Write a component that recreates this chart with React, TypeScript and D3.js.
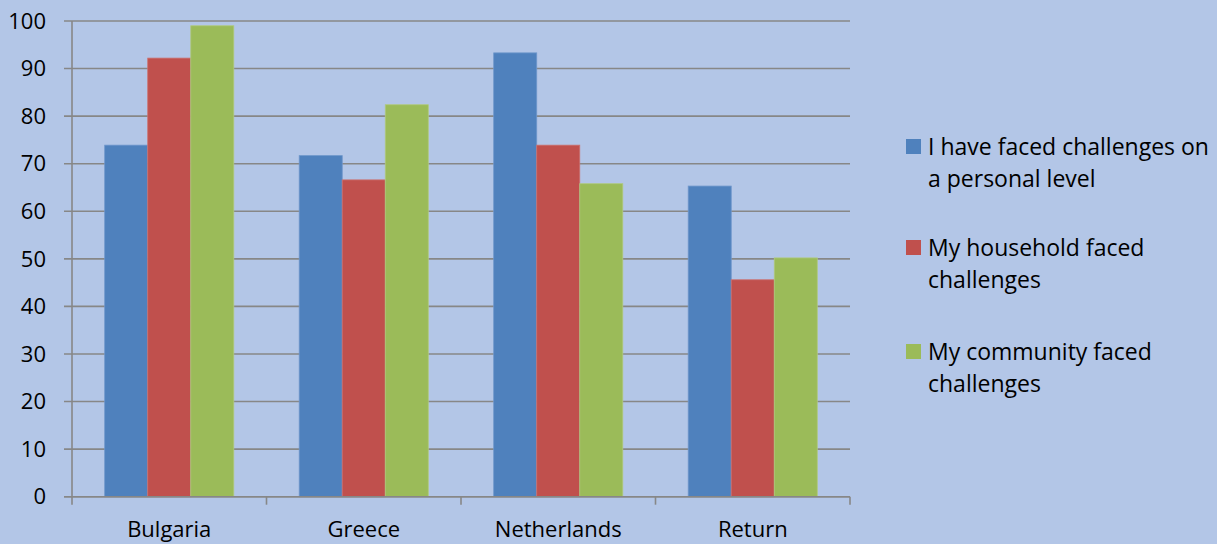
import React from "react";
import * as d3 from "d3";

const categories = ["Bulgaria", "Greece", "Netherlands", "Return"];
const seriesNames = [
  "I have faced challenges on a personal level",
  "My household faced challenges",
  "My community faced challenges",
];
const legendLines = [
  ["I have faced challenges on", "a personal level"],
  ["My household faced", "challenges"],
  ["My community faced", "challenges"],
];
const personal = [73.9, 71.7, 93.3, 65.3];
const household = [92.2, 66.6, 73.9, 45.6];
const community = [99.0, 82.4, 65.8, 50.2];
const yTicks = [0, 10, 20, 30, 40, 50, 60, 70, 80, 90, 100];
const colors = ["#4F81BD", "#C0504D", "#9BBB59"];
const strokes = ["#6E96CB", "#CC716F", "#B0C97F"];

const W = 1217;
const H = 544;
const FONT = "'Open Sans', sans-serif";

export default function App() {
  const values = [personal, household, community];
  const x0 = d3.scaleBand<string>().domain(categories).range([72, 850]).paddingInner(0).paddingOuter(0);
  const x1 = d3
    .scaleBand<string>()
    .domain(seriesNames)
    .range([0, x0.bandwidth()])
    .paddingInner(0)
    .paddingOuter(0.76);
  const y = d3.scaleLinear().domain([0, 100]).range([496.7, 21]);
  const grid = "#878787";
  const legendY = [147, 248, 352];

  return (
    <svg width={W} height={H} style={{ position: "absolute", left: 0, top: 0 }} fontFamily={FONT}>
      <rect x={0} y={0} width={W} height={H} fill="#B3C6E7" />
      {yTicks.map((t) => (
        <g key={t}>
          <line x1={64} x2={850} y1={y(t)} y2={y(t)} stroke={grid} strokeWidth={1.6} />
          <text x={46} y={y(t)} dy="0.35em" textAnchor="end" fontSize={22} fill="#000">
            {t}
          </text>
        </g>
      ))}
      {values.map((vals, si) =>
        categories.map((c, ci) => (
          <rect
            key={`${si}-${ci}`}
            x={(x0(c) ?? 0) + (x1(seriesNames[si]) ?? 0)}
            y={y(vals[ci])}
            width={x1.bandwidth()}
            height={y(0) - y(vals[ci])}
            fill={colors[si]}
            stroke={strokes[si]}
            strokeWidth={0.8}
          />
        ))
      )}
      <line x1={72} x2={72} y1={y(100)} y2={y(0)} stroke={grid} strokeWidth={1.6} />
      <line x1={64} x2={850} y1={y(0)} y2={y(0)} stroke={grid} strokeWidth={1.6} />
      {[...categories.map((c) => x0(c) ?? 0), 850].map((xv, i) => (
        <line key={i} x1={xv} x2={xv} y1={y(0)} y2={y(0) + 8} stroke={grid} strokeWidth={1.6} />
      ))}
      {categories.map((c) => (
        <text
          key={c}
          x={(x0(c) ?? 0) + x0.bandwidth() / 2}
          y={537}
          textAnchor="middle"
          fontSize={22}
          fill="#000"
        >
          {c}
        </text>
      ))}
      {legendLines.map((lines, i) => (
        <g key={i}>
          <rect x={906} y={legendY[i] - 8} width={15} height={15} fill={colors[i]} />
          {lines.map((ln, j) => (
            <text key={j} x={928} y={legendY[i] + j * 31.5} dy="0.35em" fontSize={23} fill="#000">
              {ln}
            </text>
          ))}
        </g>
      ))}
    </svg>
  );
}
